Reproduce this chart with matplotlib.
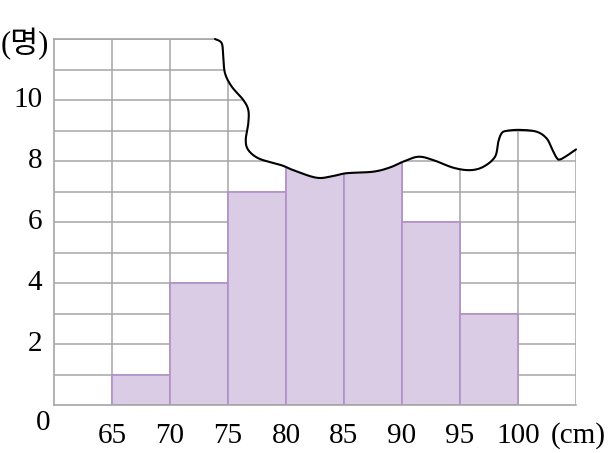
import numpy as np
import matplotlib
matplotlib.use("Agg")
import matplotlib.pyplot as plt

# ---- data ----
bin_edges = [65, 70, 75, 80, 85, 90, 95, 100]
counts = [1, 4, 7, 9, 8, 6, 3]
x_tick_labels = ["65", "70", "75", "80", "85", "90", "95", "100"]
y_ticks = [2, 4, 6, 8, 10]
y_unit = "(명)"
x_unit = "(cm)"

# torn-paper edge (decoration) in data coordinates
tear_x = [73.88, 74.46, 74.59, 74.74, 75.32, 76.32, 76.75, 76.75, 76.53, 76.75,
          77.61, 79.05, 79.77, 80.63, 82.65, 84.08, 85.23, 87.53, 88.97, 90.11,
          91.41, 92.70, 94.42, 95.86, 97.01, 98.02, 98.30, 98.59, 99.03, 100.17,
          101.61, 102.47, 102.91, 103.34, 103.62, 104.20, 105.0]
tear_y = [12.0, 11.86, 11.42, 10.88, 10.44, 10.0, 9.67, 9.24, 8.69, 8.36,
          8.09, 7.92, 7.84, 7.70, 7.45, 7.51, 7.60, 7.65, 7.79, 7.98,
          8.14, 8.03, 7.78, 7.70, 7.81, 8.14, 8.63, 8.91, 8.99, 9.02,
          8.96, 8.74, 8.41, 8.10, 8.05, 8.17, 8.38]


def catmull_rom(xs, ys, n=12):
    P = np.column_stack([xs, ys])
    P = np.vstack([P[0], P, P[-1]])
    out = []
    for i in range(1, len(P) - 2):
        p0, p1, p2, p3 = P[i - 1], P[i], P[i + 1], P[i + 2]
        t = np.linspace(0, 1, n, endpoint=False)[:, None]
        pts = 0.5 * ((2 * p1) + (-p0 + p2) * t + (2 * p0 - 5 * p1 + 4 * p2 - p3) * t ** 2
                     + (-p0 + 3 * p1 - 3 * p2 + p3) * t ** 3)
        out.append(pts)
    out.append(P[-2][None, :])
    return np.vstack(out)


W, H = 610, 453
fig = plt.figure(figsize=(W / 100, H / 100), dpi=100)
L, R, B, T = 54, 576, 405, 39
ax = fig.add_axes([L / W, (H - B) / H, (R - L) / W, (B - T) / H])
ax.set_xlim(60, 105)
ax.set_ylim(0, 12)


def px(x, y):
    return x / W, 1 - y / H


grid_c = "#a6a6a6"
for yv in range(1, 13):
    ax.axhline(yv, color=grid_c, lw=1.1, zorder=1)
for xv in range(65, 106, 5):
    ax.axvline(xv, color=grid_c, lw=1.1, zorder=1)

ax.bar(bin_edges[:len(counts)], counts, width=5, align="edge",
       color="#d9cce4", edgecolor="#b38fc9", linewidth=1.2, zorder=2)

for s in ["top", "right"]:
    ax.spines[s].set_visible(False)
for s in ["left", "bottom"]:
    ax.spines[s].set_color(grid_c)
    ax.spines[s].set_linewidth(1.2)
    ax.spines[s].set_zorder(3)
ax.plot([60, 74], [12, 12], color=grid_c, lw=1.2, zorder=1, clip_on=False)

curve = catmull_rom(tear_x, tear_y)
poly = np.vstack([curve, [[106, curve[-1, 1]], [106, 12.6], [curve[0, 0], 12.6]]])
ax.fill(poly[:, 0], poly[:, 1], color="white", zorder=4, clip_on=False, lw=0)
ax.plot(curve[:, 0], curve[:, 1], color="black", lw=1.5, zorder=5, clip_on=False,
        solid_capstyle="round")

ax.set_xticks([])
ax.set_yticks([])

fam = ["Liberation Serif", "Noto Sans CJK KR"]
fs = 21
for yv in y_ticks:
    ax.text(60 - 1.0, yv, str(yv), ha="right", va="center", fontsize=fs, family=fam)
fig.text(*px(43, 423), "0", ha="center", va="center", fontsize=fs, family=fam)
for xv, lab in zip(bin_edges, x_tick_labels):
    x_fig = (L + (xv - 60) / 45 * (R - L)) / W
    fig.text(x_fig, 1 - 436 / H, lab, ha="center", va="center", fontsize=fs, family=fam)
fig.text(*px(578, 436), x_unit, ha="center", va="center", fontsize=fs, family=fam)
fig.text(*px(1, 44), y_unit, ha="left", va="center", fontsize=22, family=fam)

fig.savefig("out.png", dpi=100)
